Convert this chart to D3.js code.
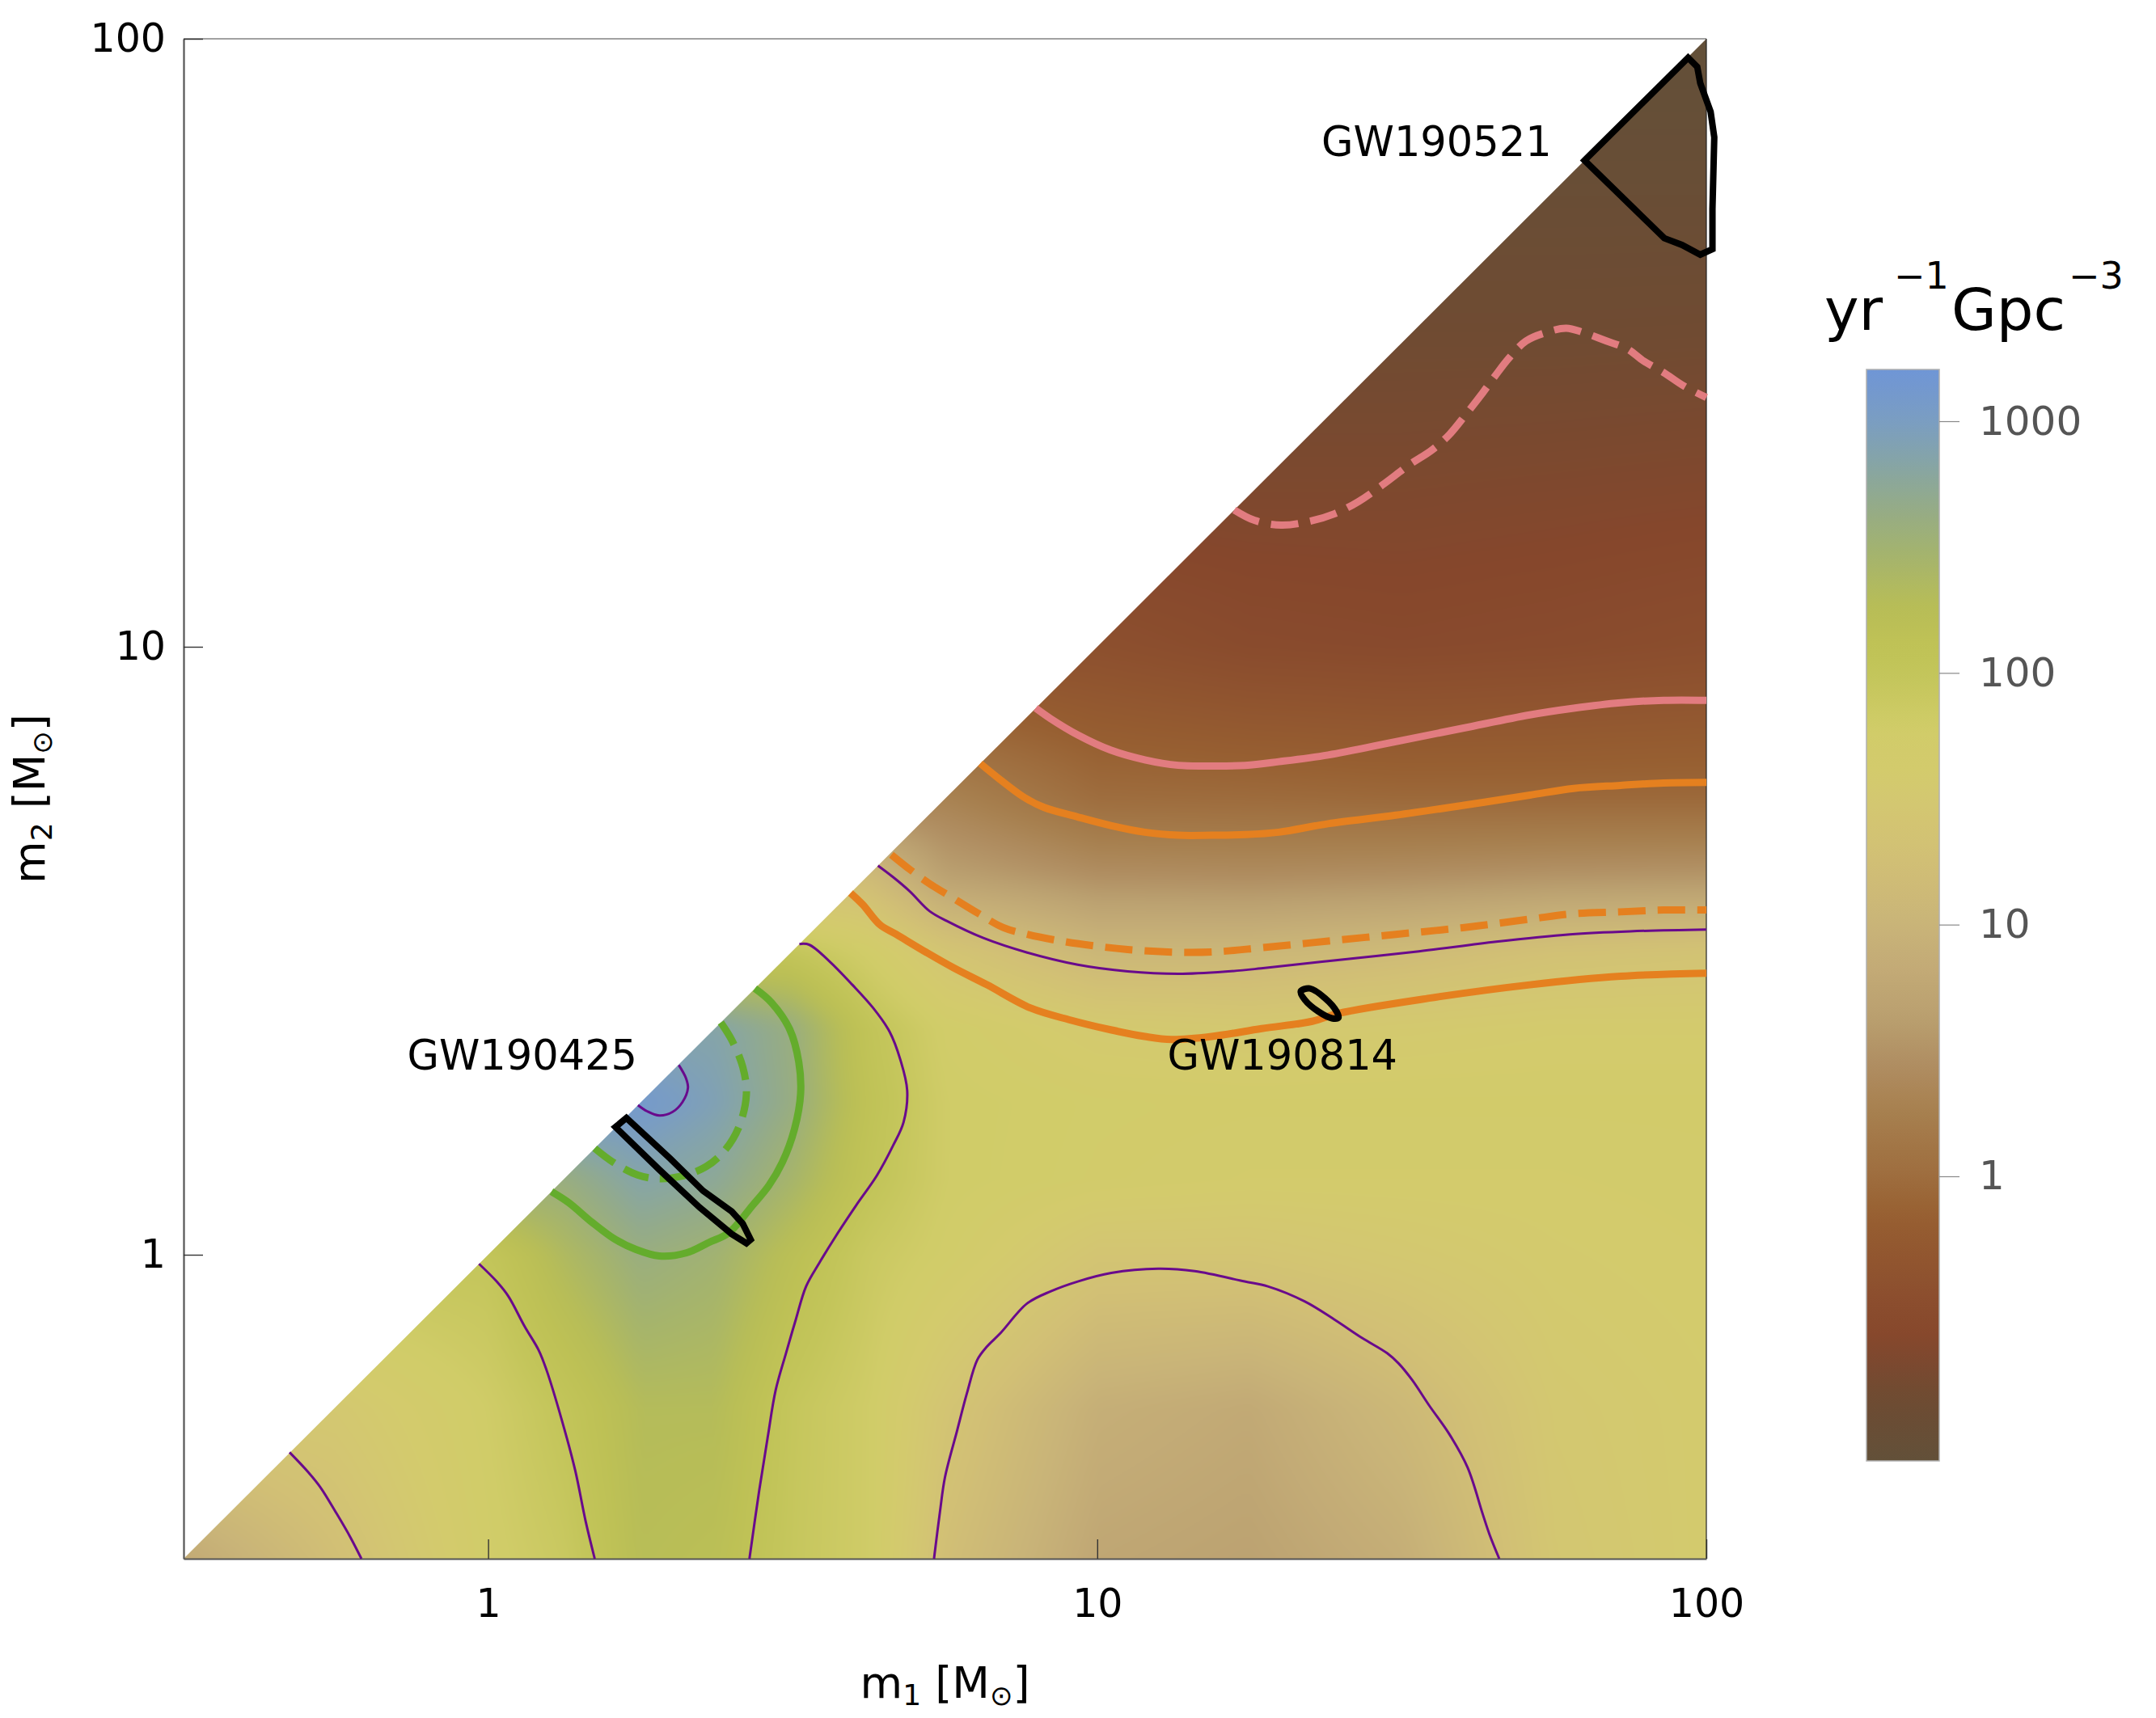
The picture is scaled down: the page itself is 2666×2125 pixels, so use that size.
<!DOCTYPE html>
<html><head><meta charset="utf-8">
<script src="https://cdn.jsdelivr.net/npm/d3@7"></script>
<style>
body{margin:0;background:#fff}
svg{display:block}
text{font-family:'DejaVu Sans',sans-serif}
</style>
</head><body>
<svg id="chart" width="2666" height="2125"></svg>
<script>
// ---------------- DATA ----------------
// grid nodes, log10(mass / Msun), same for m1 and m2
const gridLog = [-0.5,-0.25,0,0.125,0.25,0.375,0.5,0.625,0.75,1,1.25,1.5,1.75,2];
// log10(rate [yr^-1 Gpc^-3]); rows = m2 node, columns = m1 node; null = outside m2<=m1
const rateLog = [
 [0.8, 1.25, 1.75, 1.9, 2.25, 2.2, 1.95, 1.8, 1.25, 0.75, 0.68, 0.88, 1.45, 1.6],
 [null, 1.5, 1.8, 2.02, 2.3, 2.3, 1.97, 1.8, 1.4, 0.9, 0.8, 1.1, 1.5, 1.6],
 [null, null, 2.0, 2.35, 2.6, 2.5, 2.2, 1.9, 1.75, 1.4, 1.4, 1.5, 1.6, 1.65],
 [null, null, null, 2.6, 2.85, 2.75, 2.45, 2.05, 1.8, 1.7, 1.65, 1.65, 1.65, 1.68],
 [null, null, null, null, 3.1, 2.92, 2.62, 2.1, 1.8, 1.72, 1.7, 1.7, 1.7, 1.7],
 [null, null, null, null, null, 2.85, 2.6, 2.05, 1.75, 1.55, 1.5, 1.55, 1.6, 1.6],
 [null, null, null, null, null, null, 2.0, 1.75, 1.4, 1.05, 1.05, 1.15, 1.3, 1.35],
 [null, null, null, null, null, null, null, 1.15, 0.65, 0.45, 0.42, 0.45, 0.5, 0.52],
 [null, null, null, null, null, null, null, null, 0.3, 0.0, -0.02, -0.05, -0.05, -0.05],
 [null, null, null, null, null, null, null, null, null, -0.45, -0.55, -0.58, -0.55, -0.5],
 [null, null, null, null, null, null, null, null, null, null, -0.72, -0.72, -0.7, -0.68],
 [null, null, null, null, null, null, null, null, null, null, null, -0.86, -0.86, -0.85],
 [null, null, null, null, null, null, null, null, null, null, null, null, -1.0, -1.0],
 [null, null, null, null, null, null, null, null, null, null, null, null, null, -1.12]
];
// colour map (log10 rate -> colour)
const cmapValues = [-1.13,-0.86,-0.64,-0.38,-0.16,0,0.26,0.45,0.64,0.83,1.0,1.28,1.47,1.63,1.79,2.0,2.14,2.27,2.46,2.66,2.81,3.0,3.2];
const cmapColors = ['#625039','#704b32','#86472c','#8f532f','#975f31','#9e6d3e','#a7804f','#b08e62','#baa070','#c3ab76','#c9b478','#d2c075','#d3c771','#d3cb6c','#d0cc68','#c3c55a','#bec155','#b7bd57','#a5b46c','#94ab88','#88a6a2','#7a9dc2','#6f96d6'];
const colorbarRange = [-1.1307, 3.2056];   // log10 rate
const colorbarTicks = [1, 10, 100, 1000];
const axisTicks = [1, 10, 100];

// contour curves, points are [log10 m1, log10 m2]
const purpleA = [[-0.326,-0.325],[-0.295,-0.358],[-0.275,-0.383],[-0.248,-0.427],[-0.226,-0.465],[-0.208,-0.5]];
const purpleB = [[-0.015,-0.015],[0.014,-0.044],[0.033,-0.068],[0.060,-0.118],[0.083,-0.157],[0.096,-0.190],[0.121,-0.272],[0.143,-0.355],[0.160,-0.438],[0.175,-0.5]];
const purpleC = [[0.511,0.511],[0.527,0.510],[0.560,0.483],[0.598,0.444],[0.632,0.406],[0.659,0.367],[0.677,0.320],[0.688,0.270],[0.682,0.218],[0.665,0.180],[0.638,0.130],[0.604,0.081],[0.571,0.031],[0.544,-0.013],[0.522,-0.052],[0.505,-0.107],[0.489,-0.162],[0.472,-0.223],[0.459,-0.300],[0.445,-0.388],[0.429,-0.5]];
const purpleArch = [[0.732,-0.5],[0.742,-0.421],[0.750,-0.366],[0.770,-0.289],[0.786,-0.228],[0.803,-0.173],[0.819,-0.151],[0.841,-0.129],[0.885,-0.080],[0.924,-0.060],[0.968,-0.044],[1.023,-0.030],[1.100,-0.023],[1.160,-0.027],[1.242,-0.044],[1.280,-0.052],[1.341,-0.077],[1.390,-0.107],[1.435,-0.137],[1.476,-0.162],[1.495,-0.179],[1.517,-0.206],[1.545,-0.248],[1.578,-0.295],[1.608,-0.350],[1.633,-0.427],[1.644,-0.460],[1.660,-0.5]];
const purpleUpper = [[0.640,0.640],[0.665,0.621],[0.692,0.598],[0.725,0.565],[0.753,0.549],[0.813,0.521],[0.885,0.497],[0.968,0.477],[1.050,0.466],[1.133,0.462],[1.215,0.466],[1.269,0.471],[1.379,0.483],[1.528,0.499],[1.655,0.515],[1.776,0.527],[1.875,0.532],[2.0,0.535]];
const purplePeak = [[0.313,0.312],[0.325,0.290],[0.328,0.274],[0.319,0.251],[0.303,0.235],[0.281,0.229],[0.261,0.236],[0.246,0.246]];
const greenSolid = [[0.438,0.438],[0.465,0.415],[0.495,0.371],[0.510,0.317],[0.513,0.265],[0.503,0.207],[0.483,0.152],[0.461,0.114],[0.434,0.081],[0.395,0.036],[0.362,0.020],[0.325,0.003],[0.281,-0.002],[0.242,0.009],[0.209,0.025],[0.171,0.053],[0.132,0.086],[0.104,0.104]];
const greenDashed = [[0.382,0.382],[0.400,0.353],[0.418,0.309],[0.424,0.264],[0.412,0.211],[0.388,0.171],[0.358,0.145],[0.317,0.129],[0.281,0.125],[0.246,0.131],[0.204,0.153],[0.175,0.175]];
const orangeLower = [[0.595,0.595],[0.615,0.576],[0.643,0.543],[0.670,0.527],[0.720,0.497],[0.764,0.472],[0.819,0.444],[0.890,0.406],[0.956,0.386],[1.022,0.370],[1.078,0.359],[1.122,0.354],[1.188,0.359],[1.270,0.372],[1.353,0.384],[1.396,0.397],[1.545,0.422],[1.710,0.444],[1.859,0.458],[2.0,0.463]];
const orangeDashed = [[0.662,0.658],[0.692,0.634],[0.725,0.610],[0.753,0.593],[0.802,0.563],[0.846,0.538],[0.885,0.527],[0.940,0.516],[0.995,0.508],[1.050,0.502],[1.116,0.498],[1.188,0.498],[1.270,0.505],[1.379,0.516],[1.490,0.527],[1.600,0.538],[1.710,0.552],[1.782,0.561],[1.859,0.564],[1.930,0.567],[2.0,0.567]];
const orangeUpper = [[0.808,0.808],[0.835,0.786],[0.879,0.753],[0.912,0.736],[0.968,0.720],[1.022,0.706],[1.078,0.695],[1.133,0.690],[1.188,0.690],[1.243,0.691],[1.298,0.695],[1.379,0.709],[1.490,0.723],[1.600,0.739],[1.710,0.756],[1.782,0.767],[1.859,0.772],[1.930,0.776],[2.0,0.777]];
const pinkSolid = [[0.899,0.899],[0.923,0.882],[0.968,0.855],[1.022,0.830],[1.078,0.814],[1.133,0.805],[1.188,0.804],[1.243,0.805],[1.298,0.811],[1.379,0.822],[1.490,0.844],[1.600,0.866],[1.710,0.888],[1.782,0.899],[1.859,0.908],[1.930,0.912],[2.0,0.912]];
const pinkDashed = [[1.225,1.225],[1.258,1.208],[1.302,1.200],[1.347,1.206],[1.390,1.219],[1.429,1.239],[1.468,1.266],[1.512,1.299],[1.550,1.324],[1.578,1.349],[1.605,1.382],[1.633,1.418],[1.655,1.448],[1.677,1.476],[1.704,1.503],[1.737,1.517],[1.770,1.524],[1.798,1.517],[1.836,1.503],[1.870,1.490],[1.897,1.470],[1.930,1.451],[1.963,1.429],[2.0,1.410]];
// event credible regions
const gw190425 = [[0.209,0.210],[0.227,0.225],[0.299,0.158],[0.353,0.105],[0.400,0.071],[0.418,0.051],[0.431,0.025],[0.424,0.019],[0.400,0.034],[0.347,0.078],[0.281,0.140]];
const gw190814 = [[1.334,0.433],[1.349,0.438],[1.374,0.422],[1.393,0.400],[1.396,0.390],[1.385,0.389],[1.363,0.400],[1.341,0.419]];
const gw190521 = [[1.800,1.800],[1.970,1.969],[1.985,1.954],[1.990,1.927],[2.007,1.880],[2.013,1.838],[2.010,1.720],[2.010,1.654],[1.990,1.645],[1.960,1.661],[1.931,1.672]];
const eventLabels = [
  {name:'GW190425', m1:10**-0.133, m2:10**0.3045},
  {name:'GW190814', m1:10**1.115, m2:10**0.3045},
  {name:'GW190521', m1:10**1.368, m2:10**1.807}
];

// ---------------- LAYOUT ----------------
const L = 227, R = 2110, T = 48, B = 1928;
const svg = d3.select('#chart');
const x = d3.scaleLog().domain([10**-0.5, 100]).range([L, R]);
const y = d3.scaleLog().domain([10**-0.5, 100]).range([B, T]);
const color = d3.scaleLinear().domain(cmapValues).range(cmapColors).interpolate(d3.interpolateRgb).clamp(true);

// ---------------- HEATMAP ----------------
const G = rateLog.map((row, j) => row.map((v, i) => v === null ? rateLog[j][j] : v));
function locate(v) {
  let i = d3.bisectRight(gridLog, v) - 1;
  i = Math.max(0, Math.min(gridLog.length - 2, i));
  let t = (v - gridLog[i]) / (gridLog[i+1] - gridLog[i]);
  return [i, Math.max(0, Math.min(1, t))];
}
const pad = 30;
const W = R - L + 2*pad, H = B - T + 2*pad;
const c1 = document.createElement('canvas'); c1.width = W; c1.height = H;
const ctx1 = c1.getContext('2d');
const img = ctx1.createImageData(W, H);
const lutN = 2048, lutMin = -1.3, lutMax = 3.4;
const lut = new Uint8Array(lutN*3);
for (let k = 0; k < lutN; k++) {
  const c = d3.rgb(color(lutMin + (lutMax - lutMin) * k / (lutN - 1)));
  lut[3*k] = c.r; lut[3*k+1] = c.g; lut[3*k+2] = c.b;
}
const colI = new Int32Array(W), colT = new Float64Array(W);
for (let px = 0; px < W; px++) {
  const lv = Math.max(-0.5, Math.min(2, Math.log10(x.invert(L - pad + px + 0.5))));
  const [i, t] = locate(lv); colI[px] = i; colT[px] = t;
}
for (let py = 0; py < H; py++) {
  const lv = Math.max(-0.5, Math.min(2, Math.log10(y.invert(T - pad + py + 0.5))));
  const [j, u] = locate(lv);
  const r0 = G[j], r1 = G[j+1];
  for (let px = 0; px < W; px++) {
    const i = colI[px], t = colT[px];
    const v = (1-t)*(1-u)*r0[i] + t*(1-u)*r0[i+1] + (1-t)*u*r1[i] + t*u*r1[i+1];
    let k = Math.round((v - lutMin) / (lutMax - lutMin) * (lutN - 1));
    k = Math.max(0, Math.min(lutN - 1, k));
    const o = 4*(py*W + px);
    img.data[o] = lut[3*k]; img.data[o+1] = lut[3*k+1]; img.data[o+2] = lut[3*k+2]; img.data[o+3] = 255;
  }
}
ctx1.putImageData(img, 0, 0);
const c2 = document.createElement('canvas'); c2.width = W; c2.height = H;
const ctx2 = c2.getContext('2d');
ctx2.filter = 'blur(9px)';
ctx2.drawImage(c1, 0, 0);

const defs = svg.append('defs');
const lo = 10**-0.5, hi = 100;
defs.append('clipPath').attr('id', 'tri').append('path')
  .attr('d', `M${x(lo)},${y(lo)}L${x(hi)},${y(hi)}L${x(hi)},${y(lo)}Z`);
svg.append('image')
  .attr('x', L - pad).attr('y', T - pad).attr('width', W).attr('height', H)
  .attr('preserveAspectRatio', 'none')
  .attr('href', c2.toDataURL())
  .attr('clip-path', 'url(#tri)');

// ---------------- FRAME & AXES ----------------
svg.append('line').attr('x1', L).attr('x2', R).attr('y1', T).attr('y2', T).attr('stroke', '#444').attr('stroke-width', 1.2);
svg.append('line').attr('x1', R).attr('x2', R).attr('y1', T).attr('y2', B).attr('stroke', '#222').attr('stroke-width', 1.2);

const xAxis = svg.append('g').attr('transform', `translate(0,${B})`)
  .call(d3.axisBottom(x).tickValues(axisTicks).tickFormat(d3.format('d')).tickSizeInner(-24).tickSizeOuter(0).tickPadding(37));
const yAxis = svg.append('g').attr('transform', `translate(${L},0)`)
  .call(d3.axisLeft(y).tickValues(axisTicks).tickFormat(d3.format('d')).tickSizeInner(-24).tickSizeOuter(0).tickPadding(22));
[xAxis, yAxis].forEach(g => {
  g.select('.domain').attr('stroke', '#555').attr('stroke-width', 2.2);
  g.selectAll('.tick line').attr('stroke', '#333').attr('stroke-width', 1.4);
  g.selectAll('.tick text').attr('fill', '#000').style('font-size', '49px').style('font-family', "'DejaVu Sans',sans-serif");
});

// axis titles
const xt = svg.append('text').attr('x', (L+R)/2).attr('y', 2100).attr('text-anchor', 'middle').style('font-size', '54px');
xt.append('tspan').text('m');
xt.append('tspan').attr('dy', 9).style('font-size', '36px').text('1');
xt.append('tspan').attr('dy', -9).text(' [M');
xt.append('tspan').attr('dy', 9).style('font-size', '34px').text('\u2299');
xt.append('tspan').attr('dy', -9).text(']');
const yt = svg.append('text').attr('transform', `translate(55,${(T+B)/2}) rotate(-90)`).attr('text-anchor', 'middle').style('font-size', '54px');
yt.append('tspan').text('m');
yt.append('tspan').attr('dy', 9).style('font-size', '36px').text('2');
yt.append('tspan').attr('dy', -9).text(' [M');
yt.append('tspan').attr('dy', 9).style('font-size', '34px').text('\u2299');
yt.append('tspan').attr('dy', -9).text(']');

// ---------------- CURVES ----------------
const curve = d3.line().x(d => x(10**d[0])).y(d => y(10**d[1])).curve(d3.curveCatmullRom.alpha(0.5));
const gLines = svg.append('g').attr('fill', 'none').attr('stroke-linecap', 'butt');
const purple = '#690a8c', green = '#64ac2c', orange = '#e5801f', pink = '#e27c80';
[purpleA, purpleB, purpleC, purpleArch, purpleUpper, purplePeak].forEach(p =>
  gLines.append('path').attr('d', curve(p)).attr('stroke', purple).attr('stroke-width', 3));
const styled = [
  [greenSolid, green, null], [greenDashed, green, '32,14'],
  [orangeLower, orange, null], [orangeDashed, orange, '34,15'], [orangeUpper, orange, null],
  [pinkSolid, pink, null], [pinkDashed, pink, '34,15']
];
styled.forEach(([p, c, dash]) => {
  const path = gLines.append('path').attr('d', curve(p)).attr('stroke', c).attr('stroke-width', 9);
  if (dash) path.attr('stroke-dasharray', dash);
});

// event regions
const poly = d3.line().x(d => x(10**d[0])).y(d => y(10**d[1])).curve(d3.curveLinearClosed);
const smooth = d3.line().x(d => x(10**d[0])).y(d => y(10**d[1])).curve(d3.curveCatmullRomClosed.alpha(0.5));
gLines.append('path').attr('d', poly(gw190425)).attr('stroke', '#000').attr('stroke-width', 8).attr('stroke-linejoin', 'miter');
gLines.append('path').attr('d', smooth(gw190814)).attr('stroke', '#000').attr('stroke-width', 8);
gLines.append('path').attr('d', poly(gw190521)).attr('stroke', '#000').attr('stroke-width', 8).attr('stroke-linejoin', 'miter');

svg.append('g').selectAll('text').data(eventLabels).join('text')
  .attr('x', d => x(d.m1)).attr('y', d => y(d.m2))
  .style('font-size', '51px').attr('fill', '#000').text(d => d.name);

// ---------------- COLOURBAR ----------------
const cbX = 2308, cbW = 90, cbTop = 457, cbBot = 1807;
const cb = d3.scaleLog().domain([10**colorbarRange[0], 10**colorbarRange[1]]).range([cbBot, cbTop]);
const grad = defs.append('linearGradient').attr('id', 'cbgrad').attr('x1', 0).attr('y1', 1).attr('x2', 0).attr('y2', 0);
d3.range(0, 61).forEach(k => {
  const v = colorbarRange[0] + (colorbarRange[1] - colorbarRange[0]) * k / 60;
  grad.append('stop').attr('offset', (k/60*100) + '%').attr('stop-color', color(v));
});
svg.append('rect').attr('x', cbX).attr('y', cbTop).attr('width', cbW).attr('height', cbBot - cbTop)
  .attr('fill', 'url(#cbgrad)').attr('stroke', '#b0b0b0').attr('stroke-width', 1.5);
const cbAxis = svg.append('g').attr('transform', `translate(${cbX + cbW},0)`)
  .call(d3.axisRight(cb).tickValues(colorbarTicks).tickFormat(d3.format('d')).tickSizeInner(25).tickSizeOuter(0).tickPadding(24));
cbAxis.select('.domain').remove();
cbAxis.selectAll('.tick line').attr('stroke', '#888').attr('stroke-width', 1.2);
cbAxis.selectAll('.tick text').attr('fill', '#555').style('font-size', '50px').style('font-family', "'DejaVu Sans',sans-serif");

const ct = svg.append('text').attr('y', 408).style('font-size', '72px').attr('fill', '#000');
ct.append('tspan').attr('x', 2256).text('yr');
ct.append('tspan').attr('x', 2342).attr('y', 357).style('font-size', '46px').text('\u22121');
ct.append('tspan').attr('x', 2413).attr('y', 408).text('Gpc');
ct.append('tspan').attr('x', 2558).attr('y', 357).style('font-size', '46px').text('\u22123');
</script>
</body></html>
